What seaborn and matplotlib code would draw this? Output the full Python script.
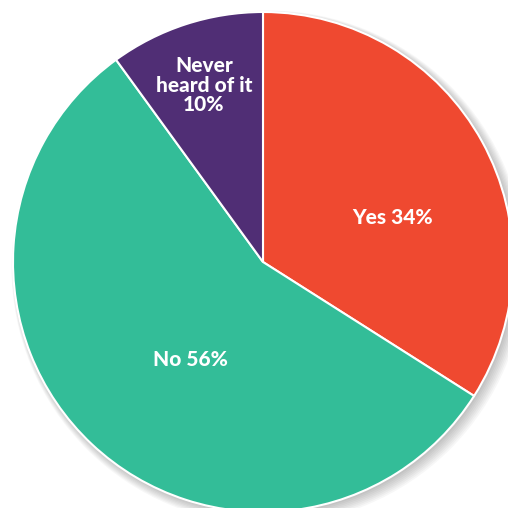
import matplotlib.pyplot as plt
import seaborn as sns
from matplotlib.patches import Circle

labels = ['Yes', 'No', 'Never\nheard of it\n']
shares = [34, 56, 10]
colors = ['#EF4930', '#33BD98', '#502E75']

sns.set_theme(style='white')
plt.rcParams['font.family'] = ['Lato', 'DejaVu Sans']

fig = plt.figure(figsize=(5.08, 5.08), dpi=100)
ax = fig.add_axes([0, 0, 1, 1])

# soft drop shadow under the pie
for i in range(8):
    ax.add_patch(Circle((0.008 + 0.002 * i, -0.008 - 0.002 * i), 1.0 + 0.004 * i,
                        color='black', alpha=0.03, lw=0, zorder=0))

ax.pie(shares, colors=colors, startangle=90, counterclock=False,
       wedgeprops=dict(edgecolor='white', linewidth=1.5), radius=1.0)

ax.set_xlim(-1.052, 0.98)
ax.set_ylim(-0.984, 1.048)
ax.set_aspect('equal')
ax.axis('off')

text_pos = [(0.52, 0.18), (-0.292, -0.392), (-0.236, 0.708)]
for lab, val, (x, y) in zip(labels, shares, text_pos):
    sep = '' if lab.endswith('\n') else ' '
    ax.text(x, y, f'{lab}{sep}{val}%', ha='center', va='center', color='white',
            fontsize=15, fontweight='black', linespacing=1.05)

fig.savefig('out.png', dpi=100)
